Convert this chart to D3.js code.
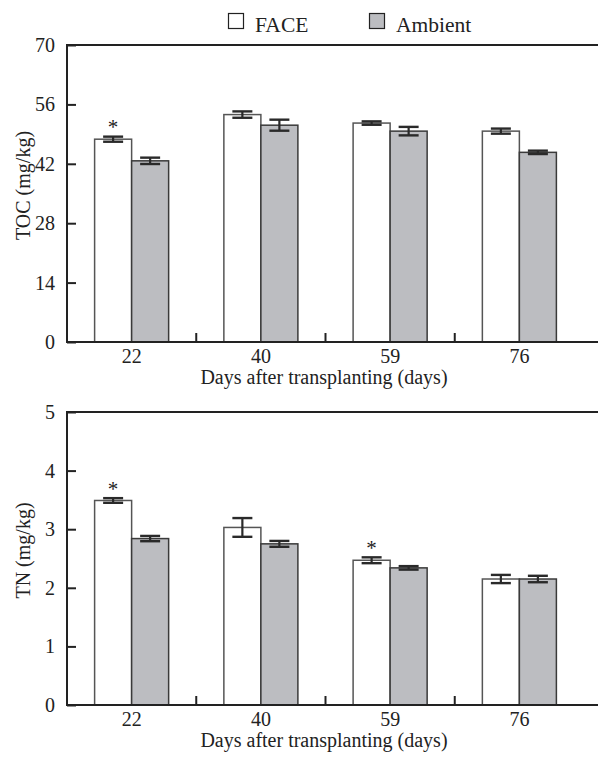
<!DOCTYPE html>
<html><head><meta charset="utf-8">
<script src="https://cdn.jsdelivr.net/npm/d3@7"></script>
<style>
html,body{margin:0;padding:0;background:#fff;}
svg{display:block;font-family:"Liberation Serif","Times New Roman",serif;}
</style></head>
<body><svg id="c" width="598" height="757"></svg>
<script>
const categories = ["22","40","59","76"];
const seriesNames = ["FACE","Ambient"];
const tocFace = [47.8, 53.6, 51.6, 49.7];
const tocFaceErr = [0.6, 0.75, 0.4, 0.6];
const tocAmb = [42.7, 51.1, 49.7, 44.7];
const tocAmbErr = [0.75, 1.3, 1.0, 0.4];
const tocStars = [true, false, false, false];
const tocTicks = [0, 14, 28, 42, 56, 70];
const tnFace = [3.49, 3.03, 2.47, 2.15];
const tnFaceErr = [0.04, 0.16, 0.05, 0.07];
const tnAmb = [2.84, 2.75, 2.34, 2.15];
const tnAmbErr = [0.045, 0.05, 0.03, 0.055];
const tnStars = [true, false, true, false];
const tnTicks = [0, 1, 2, 3, 4, 5];
const xTitle = "Days after transplanting (days)";

const svg = d3.select("#c");
const W = 598;
const left = 67, bandRight = 584;
const fills = {FACE:"#ffffff", Ambient:"#bcbdc1"};
const strokes = {FACE:"#555", Ambient:"#3a3a3a"};
const textCol = "#222";

// legend
const leg = svg.append("g");
[{n:"FACE",x:228},{n:"Ambient",x:369}].forEach(d=>{
  leg.append("rect").attr("x",d.x+0.5).attr("y",13.5).attr("width",15).attr("height",15)
    .attr("fill",fills[d.n]).attr("stroke","#222").attr("stroke-width",1.2);
  leg.append("text").attr("x",d.x+27).attr("y",32).attr("font-size",21.5).attr("fill",textCol).text(d.n);
});

function panel(opts){
  const {top, bottom, face, faceErr, amb, ambErr, stars, ticks, yLabel} = opts;
  const g = svg.append("g");
  const y = d3.scaleLinear().domain([ticks[0], ticks[ticks.length-1]]).range([bottom, top]);
  const x = d3.scaleBand().domain(categories).range([left, bandRight]).padding(0);
  const xs = d3.scaleBand().domain(seriesNames).range([0, x.bandwidth()]).paddingInner(0).paddingOuter(0.746);
  const vals = {FACE:face, Ambient:amb};
  const errs = {FACE:faceErr, Ambient:ambErr};

  // bars
  seriesNames.forEach(s=>{
    g.selectAll(null).data(categories).enter().append("rect")
      .attr("x",(c)=>x(c)+xs(s))
      .attr("y",(c,i)=>y(vals[s][i]))
      .attr("width",xs.bandwidth())
      .attr("height",(c,i)=>bottom - y(vals[s][i]))
      .attr("fill",fills[s]).attr("stroke",strokes[s]).attr("stroke-width",1.5);
  });
  // error bars
  const cap = 10;
  seriesNames.forEach(s=>{
    categories.forEach((c,i)=>{
      const cx = x(c)+xs(s)+xs.bandwidth()/2;
      const v = vals[s][i], e = errs[s][i];
      const y1 = y(v+e), y2 = y(v-e);
      g.append("line").attr("x1",cx).attr("x2",cx).attr("y1",y1).attr("y2",y2).attr("stroke","#2a2a2a").attr("stroke-width",2.2);
      [y1,y2].forEach(yy=>g.append("line").attr("x1",cx-cap).attr("x2",cx+cap).attr("y1",yy).attr("y2",yy).attr("stroke","#2a2a2a").attr("stroke-width",2.4));
    });
  });
  // stars
  categories.forEach((c,i)=>{
    if(stars[i]){
      const cx = x(c)+xs("FACE")+xs.bandwidth()/2;
      g.append("text").attr("x",cx).attr("y",y(face[i]+faceErr[i])+5).attr("text-anchor","middle")
        .attr("font-size",21).attr("fill",textCol).attr("dy","-0.35em").text("*");
    }
  });

  // y axis
  const ya = g.append("g").attr("transform",`translate(${left},0)`)
    .call(d3.axisLeft(y).tickValues(ticks).tickSize(-9).tickPadding(12).tickFormat(d3.format("d")));
  ya.select(".domain").remove();
  ya.selectAll(".tick line").attr("stroke","#222").attr("stroke-width",2);
  ya.selectAll(".tick text").attr("font-size",20).attr("fill",textCol).attr("font-family","Liberation Serif");
  g.append("line").attr("x1",left).attr("x2",left).attr("y1",top).attr("y2",bottom).attr("stroke","#222").attr("stroke-width",2);
  // top line
  g.append("line").attr("x1",left-1).attr("x2",W).attr("y1",top).attr("y2",top).attr("stroke","#222").attr("stroke-width",2.2);

  // x axis
  const xa = g.append("g").attr("transform",`translate(0,${bottom})`)
    .call(d3.axisBottom(x).tickSize(0).tickPadding(0));
  xa.select(".domain").remove();
  xa.selectAll(".tick text").attr("font-size",20).attr("fill",textCol).attr("font-family","Liberation Serif")
    .attr("dy",null).attr("y",21);
  g.append("line").attr("x1",left-1).attr("x2",W).attr("y1",bottom).attr("y2",bottom).attr("stroke","#222").attr("stroke-width",2.2);
  categories.slice(1).forEach(c=>{
    g.append("line").attr("x1",x(c)).attr("x2",x(c)).attr("y1",bottom).attr("y2",bottom-9).attr("stroke","#222").attr("stroke-width",2);
  });
  g.append("text").attr("x",324).attr("y",bottom+42).attr("text-anchor","middle")
    .attr("font-size",20).attr("fill",textCol).text(xTitle);
  g.append("text").attr("transform",`translate(30,${(top+bottom)/2 - 8}) rotate(-90)`).attr("text-anchor","middle")
    .attr("font-size",20).attr("fill",textCol).text(yLabel);
}

panel({top:45, bottom:342, face:tocFace, faceErr:tocFaceErr, amb:tocAmb, ambErr:tocAmbErr, stars:tocStars, ticks:tocTicks, yLabel:"TOC (mg/kg)"});
panel({top:412, bottom:705, face:tnFace, faceErr:tnFaceErr, amb:tnAmb, ambErr:tnAmbErr, stars:tnStars, ticks:tnTicks, yLabel:"TN (mg/kg)"});
</script></body></html>
